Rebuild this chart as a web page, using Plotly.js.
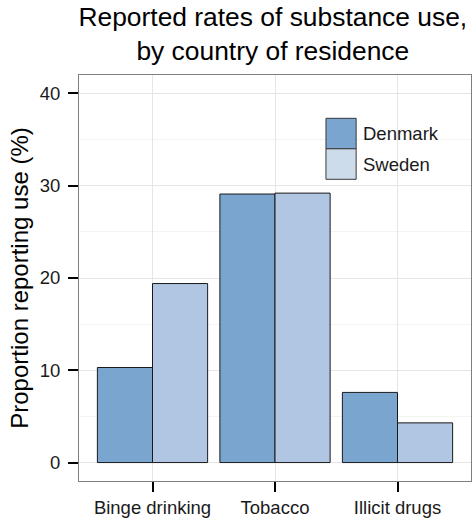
<!DOCTYPE html>
<html>
<head>
<meta charset="utf-8">
<script src="https://cdn.plot.ly/plotly-3.0.1.min.js"></script>
<style>html,body{margin:0;padding:0;background:#fff;}#chart{width:472px;height:523px;}</style>
</head>
<body>
<div id="chart"></div>
<script>
const categories = ["Binge drinking", "Tobacco", "Illicit drugs"];
const denmark = [10.3, 29.1, 7.6];
const sweden = [19.4, 29.2, 4.3];
const seriesNames = ["Denmark", "Sweden"];
const yTicks = [0, 10, 20, 30, 40];

const barColors = ["#7aa5cf", "#b0c6e2"];
const legendColors = ["#7aa5cf", "#cddcea"];
const font = "Liberation Sans, Arial, Helvetica, sans-serif";

const traces = [denmark, sweden].map((vals, i) => ({
  type: "bar",
  name: seriesNames[i],
  x: categories,
  y: vals,
  marker: {color: barColors[i], line: {color: "#1a1a1a", width: 1}},
  showlegend: false,
  hoverinfo: "x+y+name"
}));

// legend drawn as keys + labels
const keyX0 = 0.630, keyX1 = 0.707;
const keyTop = 1 - (118.3 - 75) / 406;
const keyH = 30.5 / 406;
const shapes = [];
const annotations = [];
seriesNames.forEach((n, i) => {
  const y1 = keyTop - i * keyH, y0 = y1 - keyH;
  shapes.push({type: "rect", xref: "paper", yref: "paper", x0: keyX0, x1: keyX1, y0: y0, y1: y1,
    fillcolor: legendColors[i], line: {color: "#3a3a3a", width: 1}});
  annotations.push({xref: "paper", yref: "paper", x: keyX1 + 0.012, y: (y0 + y1) / 2,
    xanchor: "left", yanchor: "middle", text: n, showarrow: false,
    font: {family: font, size: 18.5, color: "#1a1a1a"}});
});

const layout = {
  width: 472, height: 523,
  margin: {l: 79, r: 1, t: 75, b: 42, pad: 0},
  paper_bgcolor: "#fff", plot_bgcolor: "#fff",
  barmode: "group", bargap: 0.1, bargroupgap: 0,
  title: {text: "Reported rates of substance use,<br>by country of residence",
    font: {family: font, size: 26.4, color: "#000"}, xref: "container", x: 0.578, xanchor: "center",
    yref: "container", y: 0.950, yanchor: "top"},
  xaxis: {
    type: "category", range: [-0.6, 2.6],
    ticks: "outside", ticklen: 10, tickwidth: 2, tickcolor: "#000",
    tickfont: {family: font, size: 18.5, color: "#1a1a1a"},
    showgrid: true, gridcolor: "#e5e5e5", gridwidth: 1,
    showline: true, linecolor: "#7f7f7f", linewidth: 1, mirror: true,
    zeroline: false, fixedrange: true
  },
  yaxis: {
    range: [-2, 42], tickvals: yTicks, ticktext: yTicks.map(String),
    ticks: "outside", ticklen: 10, tickwidth: 2, tickcolor: "#000",
    tickfont: {family: font, size: 18.5, color: "#1a1a1a"},
    ticklabelstandoff: 4,
    showgrid: true, gridcolor: "#e5e5e5", gridwidth: 1,
    minor: {dtick: 5, tick0: 0, showgrid: true, gridcolor: "#f3f3f3", gridwidth: 1, ticks: ""},
    showline: true, linecolor: "#7f7f7f", linewidth: 1, mirror: true,
    zeroline: false, fixedrange: true,
    title: {text: "Proportion reporting use (%)", font: {family: font, size: 24, color: "#000"}, standoff: 4}
  },
  shapes: shapes,
  annotations: annotations,
  showlegend: false
};

Plotly.newPlot("chart", traces, layout, {displayModeBar: false, staticPlot: true});
</script>
</body>
</html>
